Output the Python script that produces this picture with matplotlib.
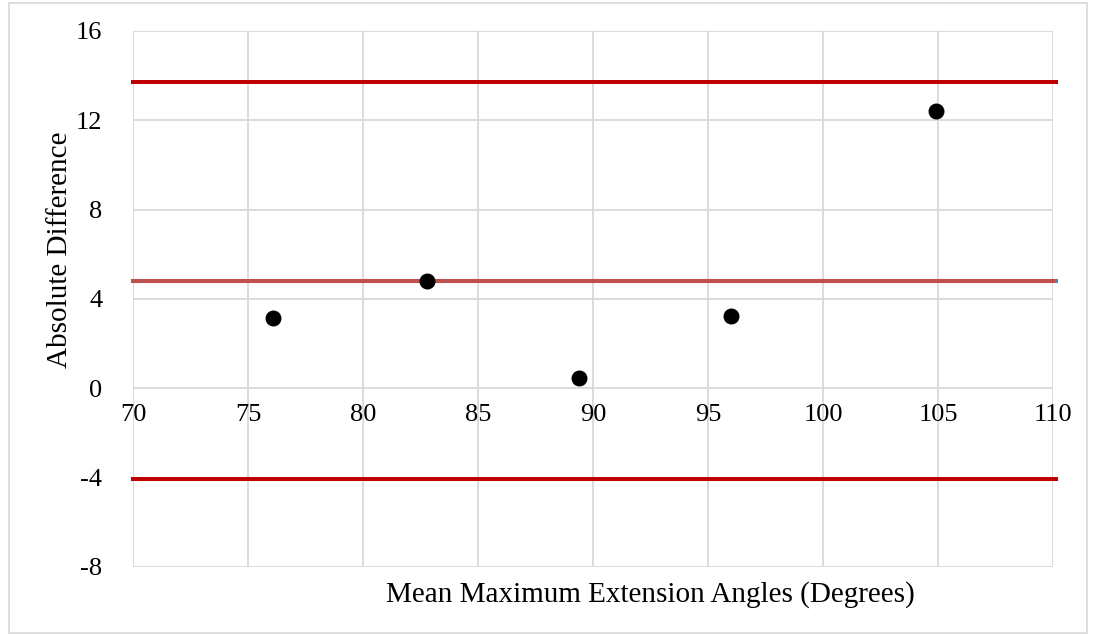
import matplotlib.pyplot as plt
from matplotlib.patches import Rectangle

# Bland-Altman style data
mean_angle = [76.1, 82.8, 89.4, 96.0, 104.9]
abs_diff = [3.15, 4.8, 0.45, 3.25, 12.4]
mean_diff = 4.8
upper_loa = 13.7
lower_loa = -4.05
line_x = [70, 110.15]

xticks = [70, 75, 80, 85, 90, 95, 100, 105, 110]
yticks = [-8, -4, 0, 4, 8, 12, 16]

plt.rcParams['font.family'] = ['Liberation Serif', 'DejaVu Serif']

fig = plt.figure(figsize=(10.96, 6.36), dpi=100)
ax = fig.add_axes([0.1214, 0.1085, 0.8394, 0.8428])

# limits of agreement and mean difference
ax.plot(line_x, [upper_loa, upper_loa], color='#C00000', lw=2.9, clip_on=False, zorder=3)
ax.plot(line_x, [lower_loa, lower_loa], color='#C00000', lw=2.9, clip_on=False, zorder=3)
ax.plot(line_x, [mean_diff, mean_diff], color='#4F81BD', lw=2.9, clip_on=False, zorder=3)
ax.plot([70, 110], [mean_diff, mean_diff], color='#C0504D', lw=2.9, clip_on=False, zorder=4)

ax.scatter(mean_angle, abs_diff, s=110, color='black', zorder=5)

ax.set_xlim(70, 110)
ax.set_ylim(-8, 16)
ax.set_xticks(xticks)
ax.set_yticks(yticks)
ax.set_yticklabels([str(v) for v in yticks])
ax.grid(True, color='#D9D9D9', lw=1.3)
ax.set_axisbelow(True)

for side in ['top', 'right', 'left']:
    ax.spines[side].set_visible(False)
ax.spines['bottom'].set_position(('data', 0))
ax.spines['bottom'].set_visible(False)
ax.tick_params(length=0, labelsize=19, colors='black')
ax.tick_params(axis='x', pad=11)
ax.tick_params(axis='y', pad=22)

fig.text(0.593, 0.065, 'Mean Maximum Extension Angles (Degrees)', ha='center', va='center', fontsize=21)
fig.text(0.055, 0.607, 'Absolute Difference', ha='center', va='center', rotation=90, fontsize=21)

fig.patches.append(Rectangle((0.008, 0.004), 0.984, 0.992, transform=fig.transFigure,
                             fill=False, edgecolor='#D9D9D9', lw=1.2))

fig.savefig('out.png', dpi=100)
